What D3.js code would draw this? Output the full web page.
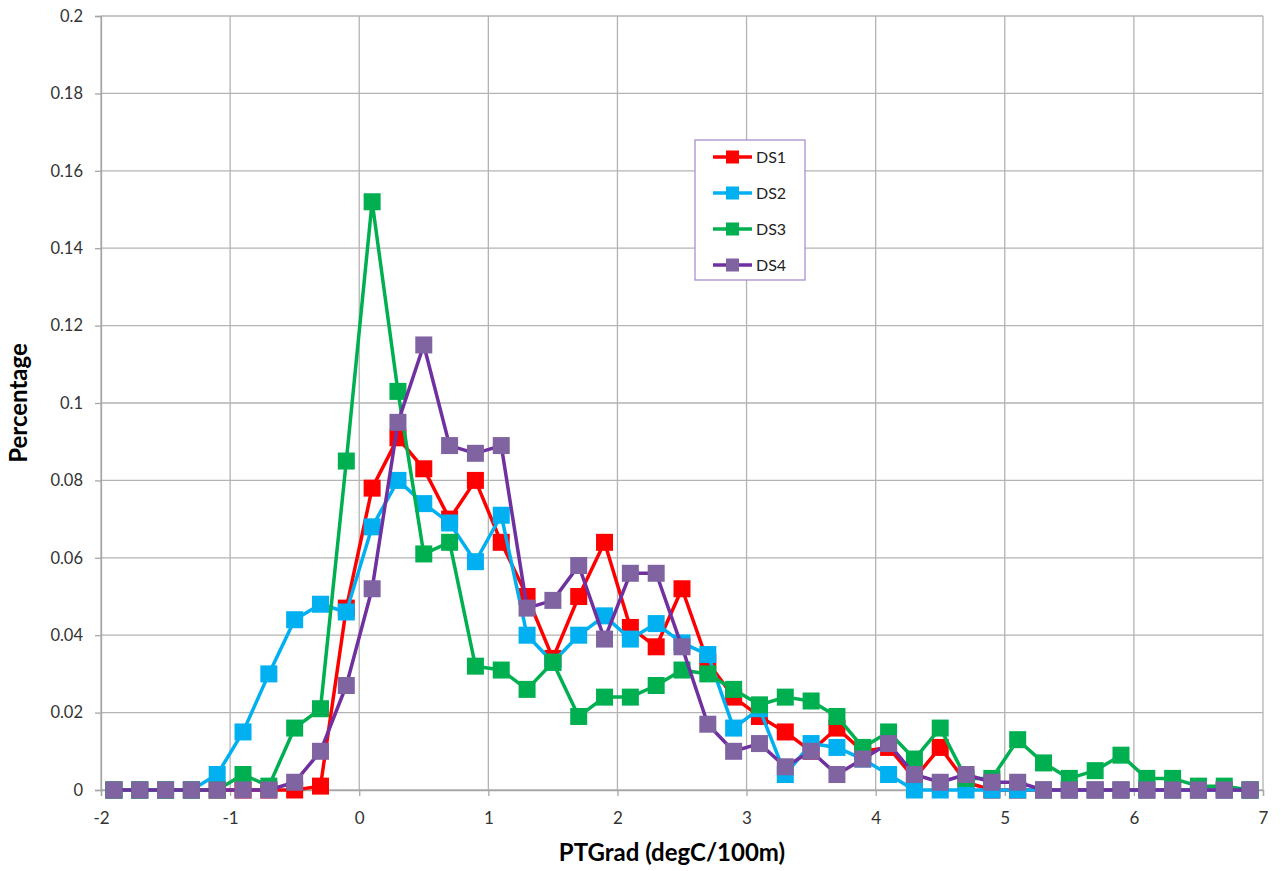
<!DOCTYPE html>
<html>
<head>
<meta charset="utf-8">
<script src="https://cdn.jsdelivr.net/npm/d3@7/dist/d3.min.js"></script>
<style>
  body { margin: 0; background: #fff; }
  svg { display: block; }
</style>
</head>
<body>
<svg id="chart"></svg>
<script>
// bin centres, -1.9 .. 6.9 step 0.2
var xBins = [-1.9, -1.7, -1.5, -1.3, -1.1, -0.9, -0.7, -0.5, -0.3, -0.1,
  0.1, 0.3, 0.5, 0.7, 0.9, 1.1, 1.3, 1.5, 1.7, 1.9,
  2.1, 2.3, 2.5, 2.7, 2.9, 3.1, 3.3, 3.5, 3.7, 3.9,
  4.1, 4.3, 4.5, 4.7, 4.9, 5.1, 5.3, 5.5, 5.7, 5.9,
  6.1, 6.3, 6.5, 6.7, 6.9]

var ds1 = [0, 0, 0, 0, 0, 0, 0, 0, 0.001, 0.047,
  0.078, 0.091, 0.083, 0.070, 0.080, 0.064, 0.050, 0.034, 0.050, 0.064,
  0.042, 0.037, 0.052, 0.033, 0.024, 0.019, 0.015, 0.010, 0.016, 0.010,
  0.011, 0.003, 0.011, 0.002, 0, 0, 0, 0, 0, 0,
  0, 0, 0, 0, 0]

var ds2 = [0, 0, 0, 0, 0.004, 0.015, 0.030, 0.044, 0.048, 0.046,
  0.068, 0.080, 0.074, 0.069, 0.059, 0.071, 0.040, 0.033, 0.040, 0.045,
  0.039, 0.043, 0.038, 0.035, 0.016, 0.021, 0.004, 0.012, 0.011, 0.008,
  0.004, 0, 0, 0, 0, 0, 0, 0, 0, 0,
  0, 0, 0, 0, 0]

var ds3 = [0, 0, 0, 0, 0, 0.004, 0.001, 0.016, 0.021, 0.085,
  0.152, 0.103, 0.061, 0.064, 0.032, 0.031, 0.026, 0.033, 0.019, 0.024,
  0.024, 0.027, 0.031, 0.030, 0.026, 0.022, 0.024, 0.023, 0.019, 0.011,
  0.015, 0.008, 0.016, 0.003, 0.003, 0.013, 0.007, 0.003, 0.005, 0.009,
  0.003, 0.003, 0.001, 0.001, 0]

var ds4 = [0, 0, 0, 0, 0, 0, 0, 0.002, 0.010, 0.027,
  0.052, 0.095, 0.115, 0.089, 0.087, 0.089, 0.047, 0.049, 0.058, 0.039,
  0.056, 0.056, 0.037, 0.017, 0.010, 0.012, 0.006, 0.010, 0.004, 0.008,
  0.012, 0.004, 0.002, 0.004, 0.002, 0.002, 0, 0, 0, 0,
  0, 0, 0, 0, 0]

var seriesNames = ['DS1', 'DS2', 'DS3', 'DS4']
var lineColors = ['#ff0000', '#00b0f0', '#00b050', '#7030a0']
var markerColors = ['#ff0000', '#00b0f0', '#00b050', '#8064a2']

var xTicks = [-2, -1, 0, 1, 2, 3, 4, 5, 6, 7]
var yTicks = [0, 0.02, 0.04, 0.06, 0.08, 0.1, 0.12, 0.14, 0.16, 0.18, 0.2]

var width = 1284
var height = 871
var margin = { top: 16, right: 21, bottom: 81, left: 101 }

var svg = d3.select('#chart')
  .attr('width', width)
  .attr('height', height)
  .attr('font-family', 'Lato, "Open Sans", sans-serif')

var x = d3.scaleLinear()
  .domain([-2, 7])
  .range([margin.left, width - margin.right])

var y = d3.scaleLinear()
  .domain([0, 0.2])
  .range([height - margin.bottom, margin.top])

// gridlines
svg.append('g')
  .selectAll('line')
  .data(xTicks)
  .join('line')
  .attr('x1', (d) => x(d))
  .attr('x2', (d) => x(d))
  .attr('y1', y(0))
  .attr('y2', y(0.2))
  .attr('stroke', '#b3b3b3')
  .attr('stroke-width', 1.3)

svg.append('g')
  .selectAll('line')
  .data(yTicks)
  .join('line')
  .attr('x1', x(-2))
  .attr('x2', x(7))
  .attr('y1', (d) => y(d))
  .attr('y2', (d) => y(d))
  .attr('stroke', '#b3b3b3')
  .attr('stroke-width', 1.3)

// axes
var xAxis = d3.axisBottom(x)
  .tickValues(xTicks)
  .tickSize(6)
  .tickPadding(16)
  .tickFormat((d) => String(d))

var yAxis = d3.axisLeft(y)
  .tickValues(yTicks)
  .tickSize(6)
  .tickPadding(12)
  .tickFormat((d) => (d === 0 ? '0' : String(+d.toFixed(2))))

svg.append('g')
  .attr('transform', `translate(0,${y(0)})`)
  .call(xAxis)
  .call((g) => g.select('.domain').attr('stroke', '#a6a6a6').attr('stroke-width', 1.3))
  .call((g) => g.selectAll('.tick line').attr('stroke', '#a6a6a6').attr('stroke-width', 1.3))
  .call((g) => g.selectAll('text').attr('font-size', 17).attr('fill', '#333').attr('font-family', 'Lato, sans-serif'))

svg.append('g')
  .attr('transform', `translate(${x(-2)},0)`)
  .call(yAxis)
  .call((g) => g.select('.domain').attr('stroke', '#a6a6a6').attr('stroke-width', 1.3))
  .call((g) => g.selectAll('.tick line').attr('stroke', '#a6a6a6').attr('stroke-width', 1.3))
  .call((g) => g.selectAll('text').attr('font-size', 16.5).attr('fill', '#333').attr('font-family', 'Lato, sans-serif'))

// axis titles
svg.append('text')
  .attr('x', 672)
  .attr('y', 861)
  .attr('text-anchor', 'middle')
  .attr('font-size', 24)
  .attr('font-weight', 'bold')
  .attr('fill', '#000')
  .text('PTGrad (degC/100m)')

svg.append('text')
  .attr('transform', `translate(27,${y(0.1)}) rotate(-90)`)
  .attr('text-anchor', 'middle')
  .attr('font-size', 24)
  .attr('font-weight', 'bold')
  .attr('fill', '#000')
  .text('Percentage')

// series
var allSeries = [ds1, ds2, ds3, ds4]
var markerSize = 17

var line = d3.line()
  .x((d, i) => x(xBins[i]))
  .y((d) => y(d))

allSeries.forEach((values, s) => {
  var g = svg.append('g')
  g.append('path')
    .datum(values)
    .attr('fill', 'none')
    .attr('stroke', lineColors[s])
    .attr('stroke-width', 3.5)
    .attr('stroke-linejoin', 'round')
    .attr('d', line)
  g.selectAll('rect')
    .data(values)
    .join('rect')
    .attr('x', (d, i) => x(xBins[i]) - markerSize / 2)
    .attr('y', (d) => y(d) - markerSize / 2)
    .attr('width', markerSize)
    .attr('height', markerSize)
    .attr('fill', markerColors[s])
})

// legend
var legend = svg.append('g').attr('transform', 'translate(695,140)')
legend.append('rect')
  .attr('x', 0)
  .attr('y', 0)
  .attr('width', 110)
  .attr('height', 140)
  .attr('fill', '#fff')
  .attr('stroke', '#a88fd0')
  .attr('stroke-width', 1.3)

var item = legend.selectAll('g.item')
  .data(seriesNames)
  .join('g')
  .attr('class', 'item')
  .attr('transform', (d, i) => `translate(0,${17 + i * 36})`)

item.append('line')
  .attr('x1', 18)
  .attr('x2', 57)
  .attr('stroke', (d, i) => lineColors[i])
  .attr('stroke-width', 3.5)
item.append('rect')
  .attr('x', 37.5 - 6.5)
  .attr('y', -6.5)
  .attr('width', 13)
  .attr('height', 13)
  .attr('fill', (d, i) => markerColors[i])
item.append('text')
  .attr('x', 61)
  .attr('dy', '0.35em')
  .attr('font-size', 16)
  .attr('fill', '#222')
  .text((d) => d)
</script>
</body>
</html>
